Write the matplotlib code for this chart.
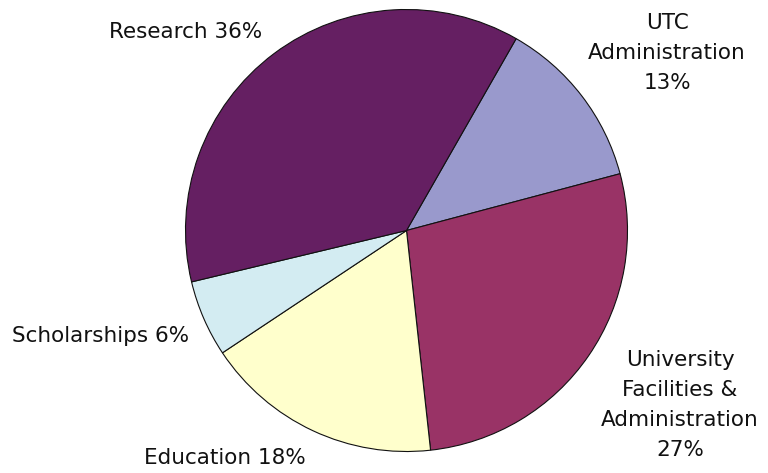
import matplotlib
matplotlib.use("Agg")
import matplotlib.pyplot as plt

# slice order goes clockwise from the UTC / Research boundary
labels = ["UTC\nAdministration\n13%", "University\nFacilities &\nAdministration\n27%",
          "Education 18%", "Scholarships 6%", "Research 36%"]
# shares as measured from the slice angles in the picture
shares = [12.6, 27.4, 17.4, 5.6, 37.0]
colors = ["#9999CC", "#993366", "#FFFFCC", "#D3ECF2", "#651F62"]

# label anchor points in pixels (x, y from top) of the 768x473 picture
label_px = [(667, 53), (680, 405), (225, 458), (12, 336), (186, 32)]
label_ha = ["center", "center", "center", "left", "center"]

W, H = 768, 473
fig = plt.figure(figsize=(W / 100, H / 100), dpi=100)
# pie box: center (406, 230), radius 221 px
cx, cy, r = 406.5, 230.5, 221
ax = fig.add_axes([(cx - r) / W, (H - cy - r) / H, 2 * r / W, 2 * r / H])
ax.pie(shares, colors=colors, startangle=60.25, counterclock=False, radius=1,
       wedgeprops=dict(edgecolor="#111111", linewidth=0.8))
ax.set_xlim(-1, 1)
ax.set_ylim(-1, 1)
ax.set_aspect("auto")
ax.axis("off")

for lab, (px, py), ha in zip(labels, label_px, label_ha):
    fig.text(px / W, 1 - py / H, lab, ha=ha, va="center", multialignment="center",
             fontsize=15.5, family="DejaVu Sans", linespacing=1.62, color="#111111")

fig.savefig("out.png", dpi=100, facecolor="white")
